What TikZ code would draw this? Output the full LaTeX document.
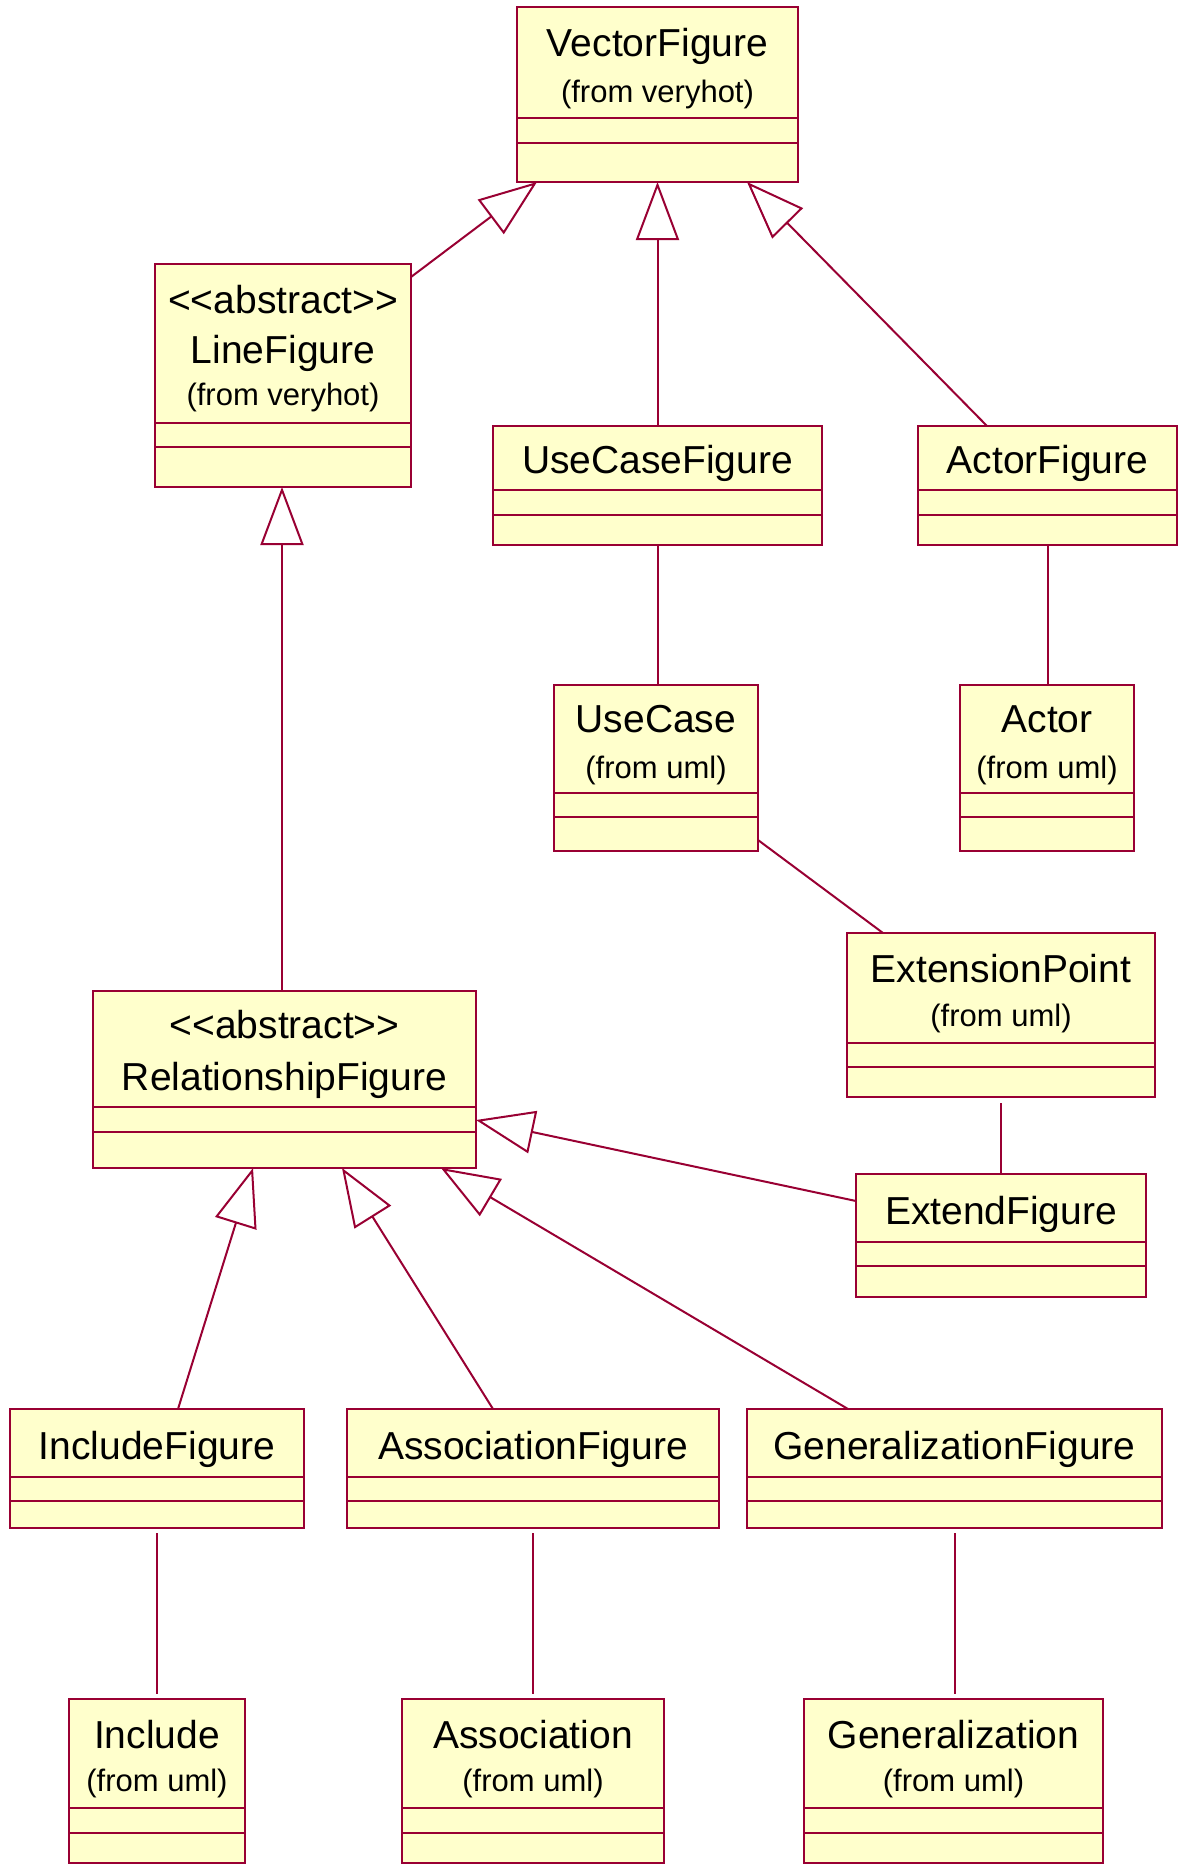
\documentclass[tikz,border=0pt]{standalone}
\usepackage{fontspec}
\setmainfont{Liberation Sans}
\usetikzlibrary{arrows.meta,calc}
\definecolor{umlred}{HTML}{990033}
\definecolor{umlfill}{HTML}{FFFFCC}
\newcommand{\umlclass}[7]{%
  \pgfmathsetmacro\clsw{#4-#2}%
  \pgfmathsetmacro\clsh{#5-#3}%
  \pgfmathsetmacro\clsx{(#2+#4)/2}%
  \pgfmathsetmacro\clsy{(#3+#5)/2}%
  \node[cls, minimum width=\clsw pt, minimum height=\clsh pt] (#1) at (\clsx,\clsy) {};
  \draw[cpt] (#2,#6) -- (#4,#6);
  \draw[cpt] (#2,#7) -- (#4,#7);
}
\newcommand{\abstr}{<{}<abstract>{}>}
\begin{document}
\begin{tikzpicture}[x=1pt,y=-1pt,
  cls/.style={rectangle, draw=umlred, fill=umlfill, line width=2.2pt, inner sep=0pt, outer sep=0pt},
  cpt/.style={draw=umlred, line width=2.2pt},
  nametext/.style={anchor=base, inner sep=0pt, font=\fontsize{39}{44}\selectfont},
  fromtext/.style={anchor=base, inner sep=0pt, font=\fontsize{31}{36}\selectfont},
  genline/.style={draw=umlred, line width=2pt, -{Triangle[length=58pt,width=43pt,fill=white,line join=miter]}},
  assoc/.style={draw=umlred, line width=2pt}]
\useasboundingbox (0,0) rectangle (1181,1868);
\fill[white] (0,0) rectangle (1181,1868);

% classes
\umlclass{vf}{517}{7}{798}{182}{118}{143}
\umlclass{lf}{155}{264}{411}{487}{423}{447}
\umlclass{ucf}{493}{426}{822}{545}{490}{515}
\umlclass{af}{918}{426}{1177}{545}{490}{515}
\umlclass{uc}{554}{685}{758}{851}{793}{817}
\umlclass{ac}{960}{685}{1134}{851}{793}{817}
\umlclass{ep}{847}{933}{1155}{1097}{1043}{1067}
\umlclass{rf}{93}{991}{476}{1168}{1107}{1132}
\umlclass{ef}{856}{1174}{1146}{1297}{1242}{1266}
\umlclass{inf}{10}{1409}{304}{1528}{1477}{1501}
\umlclass{asf}{347}{1409}{719}{1528}{1477}{1501}
\umlclass{gf}{747}{1409}{1162}{1528}{1477}{1501}
\umlclass{inc}{69}{1699}{245}{1863}{1808}{1833}
\umlclass{asc}{402}{1699}{664}{1863}{1808}{1833}
\umlclass{gen}{804}{1699}{1103}{1863}{1808}{1833}

% texts
\node[nametext] (vf-n) at ($(vf.north)+(0,50)$) {VectorFigure};
\node[fromtext] (vf-f) at ($(vf.north)+(0,95)$) {(from veryhot)};
\node[nametext] (lf-s) at ($(lf.north)+(0,49)$) {\abstr};
\node[nametext] (lf-n) at ($(lf.north)+(0,99)$) {LineFigure};
\node[fromtext] (lf-f) at ($(lf.north)+(0,141)$) {(from veryhot)};
\node[nametext] (ucf-n) at ($(ucf.north)+(0,47)$) {UseCaseFigure};
\node[nametext] (af-n) at ($(af.north)+(0,47)$) {ActorFigure};
\node[nametext] (uc-n) at ($(uc.north)+(0,47)$) {UseCase};
\node[fromtext] (uc-f) at ($(uc.north)+(0,93)$) {(from uml)};
\node[nametext] (ac-n) at ($(ac.north)+(0,47)$) {Actor};
\node[fromtext] (ac-f) at ($(ac.north)+(0,93)$) {(from uml)};
\node[nametext] (ep-n) at ($(ep.north)+(0,49)$) {ExtensionPoint};
\node[fromtext] (ep-f) at ($(ep.north)+(0,93)$) {(from uml)};
\node[nametext] (rf-s) at ($(rf.north)+(0,47)$) {\abstr};
\node[nametext] (rf-n) at ($(rf.north)+(0,99)$) {RelationshipFigure};
\node[nametext] (ef-n) at ($(ef.north)+(0,50)$) {ExtendFigure};
\node[nametext] (inf-n) at ($(inf.north)+(0,50)$) {IncludeFigure};
\node[nametext] (asf-n) at ($(asf.north)+(0,50)$) {AssociationFigure};
\node[nametext] (gf-n) at ($(gf.north)+(0,50)$) {GeneralizationFigure};
\node[nametext] (inc-n) at ($(inc.north)+(0,49)$) {Include};
\node[fromtext] (inc-f) at ($(inc.north)+(0,92)$) {(from uml)};
\node[nametext] (asc-n) at ($(asc.north)+(0,49)$) {Association};
\node[fromtext] (asc-f) at ($(asc.north)+(0,92)$) {(from uml)};
\node[nametext] (gen-n) at ($(gen.north)+(0,49)$) {Generalization};
\node[fromtext] (gen-f) at ($(gen.north)+(0,92)$) {(from uml)};

% generalizations
\draw[genline] ($(lf.north east)+(0,13)$) -- ($(vf.south west)+(20,0)$);
\draw[genline] (ucf.north) -- (ucf.north |- vf.south);
\draw[genline] ($(af.north west)+(69,0)$) -- ($(vf.south east)+(-51,0)$);
\draw[genline] ($(rf.north west)+(189,0)$) -- ($(lf.south west)+(127,0)$);
\draw[genline] ($(inf.north west)+(168,0)$) -- ($(rf.south west)+(160,0)$);
\draw[genline] ($(asf.north west)+(146,0)$) -- ($(rf.south west)+(249,0)$);
\draw[genline] ($(gf.north west)+(101,0)$) -- ($(rf.south west)+(348,0)$);
\draw[genline] ($(ef.north west)+(0,27)$) -- ($(rf.north east)+(0,129)$);

% associations
\draw[assoc] (ucf.south) -- (ucf.south |- uc.north);
\draw[assoc] (af.south) -- (af.south |- ac.north);
\draw[assoc] ($(uc.south east)+(0,-11)$) -- ($(ep.north west)+(36,0)$);
\draw[assoc, shorten <=6pt] (ep.south) -- (ep.south |- ef.north);
\draw[assoc, shorten <=5pt, shorten >=5pt] (inf.south) -- (inf.south |- inc.north);
\draw[assoc, shorten <=5pt, shorten >=5pt] (asf.south) -- (asf.south |- asc.north);
\draw[assoc, shorten <=5pt, shorten >=5pt] (gf.south) -- (gf.south |- gen.north);
\end{tikzpicture}
\end{document}
